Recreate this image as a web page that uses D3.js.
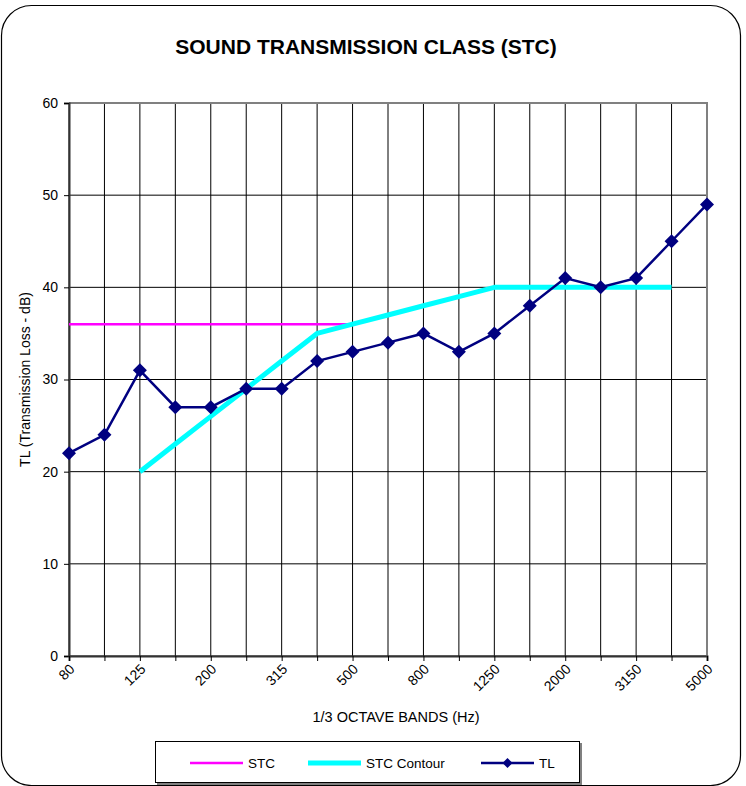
<!DOCTYPE html>
<html>
<head>
<meta charset="utf-8">
<script src="https://cdnjs.cloudflare.com/ajax/libs/d3/7.8.5/d3.min.js"></script>
<style>
  body { margin: 0; background: #fff; }
  svg { display: block; font-family: Arial, "Liberation Sans", sans-serif; }
</style>
</head>
<body>
<div id="chart"></div>
<script>
// 1/3 octave bands (Hz)
var bands = ["80", "100", "125", "160", "200", "250", "315", "400", "500", "630",
             "800", "1000", "1250", "1600", "2000", "2500", "3150", "4000", "5000"];
// labels that are printed under the axis
var tickLabels = ["80", "125", "200", "315", "500", "800", "1250", "2000", "3150", "5000"];
var yTicks = [0, 10, 20, 30, 40, 50, 60];

// measured transmission loss
var tlValues = [22, 24, 31, 27, 27, 29, 29, 32, 33, 34, 35, 33, 35, 38, 41, 40, 41, 45, 49];
// fitted STC reference contour (125 - 4000 Hz)
var contourValues = [null, null, 20, 23, 26, 29, 32, 35, 36, 37, 38, 39, 40, 40, 40, 40, 40, 40, null];
// STC rating line
var stcValues = [36, 36, 36, 36, 36, 36, 36, 36, 36, null, null, null, null, null, null, null, null, null, null];

var legendNames = ["STC", "STC Contour", "TL"];

var W = 746, H = 786;
var svg = d3.select("#chart").append("svg")
    .attr("width", W)
    .attr("height", H);

// outer rounded frame
svg.append("rect")
    .attr("x", 1.5).attr("y", 5.5)
    .attr("width", 739).attr("height", 780)
    .attr("rx", 30).attr("ry", 30)
    .attr("fill", "#fff")
    .attr("stroke", "#000")
    .attr("stroke-width", 1.2);

var x = d3.scalePoint().domain(bands).range([69, 707]);
var y = d3.scaleLinear().domain([0, 60]).range([656, 103]);

// title
svg.append("text")
    .attr("x", 366).attr("y", 54)
    .attr("text-anchor", "middle")
    .attr("font-size", 21)
    .attr("font-weight", "bold")
    .text("SOUND TRANSMISSION CLASS (STC)");

// grid
var grid = svg.append("g");
grid.selectAll("line.v")
    .data(bands)
    .enter().append("line")
    .attr("x1", function(d) { return x(d); })
    .attr("x2", function(d) { return x(d); })
    .attr("y1", y(60)).attr("y2", y(0))
    .attr("stroke", "#000").attr("stroke-width", 1);
grid.selectAll("line.h")
    .data(yTicks)
    .enter().append("line")
    .attr("x1", x("80")).attr("x2", x("5000"))
    .attr("y1", function(d) { return y(d); })
    .attr("y2", function(d) { return y(d); })
    .attr("stroke", "#000").attr("stroke-width", 1);

// plot border top/right
svg.append("path")
    .attr("d", "M" + x("80") + "," + y(60) + "H" + x("5000") + "V" + y(0))
    .attr("fill", "none")
    .attr("stroke", "#808080")
    .attr("stroke-width", 2);

// axes
var yAxis = svg.append("g")
    .attr("transform", "translate(" + x("80") + ",0)")
    .call(d3.axisLeft(y).tickValues(yTicks).tickSize(5).tickPadding(6));
var xAxis = svg.append("g")
    .attr("transform", "translate(0," + y(0) + ")")
    .call(d3.axisBottom(x).tickSize(5).tickFormat(function(d) {
        return tickLabels.indexOf(d) >= 0 ? d : "";
    }));

[yAxis, xAxis].forEach(function(a) {
    a.select(".domain").attr("stroke", "#333").attr("stroke-width", 2);
    a.selectAll(".tick line").attr("stroke", "#000");
    a.selectAll("text")
        .attr("font-family", "Arial, 'Liberation Sans', sans-serif")
        .attr("font-size", 14)
        .attr("fill", "#000");
});
xAxis.selectAll(".tick text")
    .attr("text-anchor", "end")
    .attr("dy", null)
    .attr("y", 0)
    .attr("transform", "translate(6,14) rotate(-45)");

// axis titles
svg.append("text")
    .attr("x", 396).attr("y", 722)
    .attr("text-anchor", "middle")
    .attr("font-size", 14.5)
    .text("1/3 OCTAVE BANDS (Hz)");
svg.append("text")
    .attr("transform", "translate(30," + ((y(0) + y(60)) / 2) + ") rotate(-90)")
    .attr("text-anchor", "middle")
    .attr("font-size", 14)
    .text("TL (Transmission Loss - dB)");

function lineFor(vals) {
    return d3.line()
        .defined(function(d) { return d != null; })
        .x(function(d, i) { return x(bands[i]); })
        .y(function(d) { return y(d); })(vals);
}

svg.append("path")
    .attr("d", lineFor(stcValues))
    .attr("fill", "none")
    .attr("stroke", "#FF00FF")
    .attr("stroke-width", 2.5);

svg.append("path")
    .attr("d", lineFor(contourValues))
    .attr("fill", "none")
    .attr("stroke", "#00FFFF")
    .attr("stroke-width", 5)
    .attr("stroke-linejoin", "round");

svg.append("path")
    .attr("d", lineFor(tlValues))
    .attr("fill", "none")
    .attr("stroke", "#000080")
    .attr("stroke-width", 2.5);

var diamond = "M0,-7L7,0L0,7L-7,0Z";
svg.selectAll("path.tl-mark")
    .data(tlValues)
    .enter().append("path")
    .attr("class", "tl-mark")
    .attr("d", diamond)
    .attr("transform", function(d, i) { return "translate(" + x(bands[i]) + "," + y(d) + ")"; })
    .attr("fill", "#000080");

// legend
var lg = svg.append("g");
lg.append("rect")
    .attr("x", 157).attr("y", 743).attr("width", 425).attr("height", 42)
    .attr("fill", "#808080");
lg.append("rect")
    .attr("x", 155.5).attr("y", 741.5).attr("width", 424).attr("height", 41)
    .attr("fill", "#fff").attr("stroke", "#000").attr("stroke-width", 1);

var legendX = [190, 308, 481];
var legendStroke = ["#FF00FF", "#00FFFF", "#000080"];
var legendWidth = [2.5, 5, 2.5];
var item = lg.selectAll("g.item")
    .data(legendNames)
    .enter().append("g")
    .attr("class", "item")
    .attr("transform", function(d, i) { return "translate(" + legendX[i] + ",763)"; });
item.append("line")
    .attr("x1", 0).attr("x2", 53)
    .attr("stroke", function(d, i) { return legendStroke[i]; })
    .attr("stroke-width", function(d, i) { return legendWidth[i]; });
item.append("text")
    .attr("x", 58).attr("y", 5)
    .attr("font-size", 13.5)
    .text(function(d) { return d; });
item.filter(function(d) { return d === "TL"; })
    .append("path")
    .attr("d", "M0,-5L5,0L0,5L-5,0Z")
    .attr("transform", "translate(26.5,0)")
    .attr("fill", "#000080");
</script>
</body>
</html>
